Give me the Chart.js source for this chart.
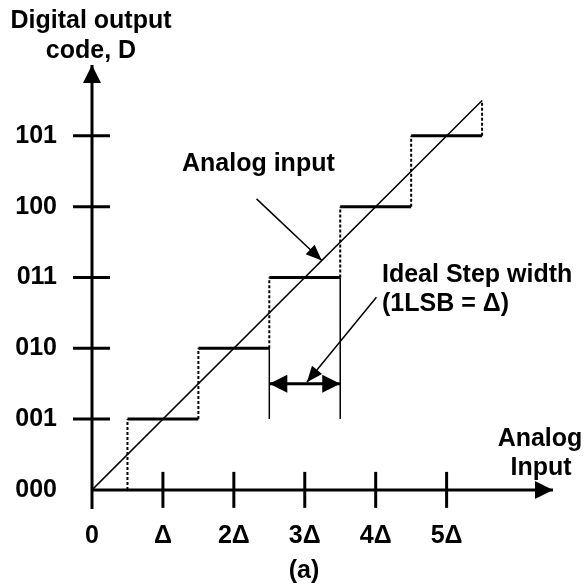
<!DOCTYPE html>
<html>
<head>
<meta charset="utf-8">
<script src="https://cdn.jsdelivr.net/npm/chart.js@4.4.1/dist/chart.umd.min.js"></script>
<style>
    html, body { margin: 0; padding: 0; background: #fff; overflow: hidden; }
    #wrap { width: 584px; height: 587px; position: relative; }
</style>
</head>
<body>
<div id="wrap"><canvas id="adcChart"></canvas></div>
<script>
// Codigos no eixo vertical (um codigo por delta)
const codeValues = [0, 1, 2, 3, 4, 5];
const codeLabels = ['000', '001', '010', '011', '100', '101'];

// Ticks do eixo horizontal, em unidades de delta
const inputValues = [0, 1, 2, 3, 4, 5];
const inputLabels = ['0', 'Δ', '2Δ', '3Δ', '4Δ', '5Δ'];

// Cada codigo vale de stepStart ate stepEnd
const stepStart = [0, 0.5, 1.5, 2.5, 3.5, 4.5];
const stepEnd = [0.5, 1.5, 2.5, 3.5, 4.5, 5.5];

// Entrada analogica ideal (reta)
const analogX = [0, 5.5];
const analogY = [0, 5.5];

// Limites dos eixos
const xAxisEnd = 6.5;
const yAxisEnd = 6;
const yAxisBelow = -0.27;

// Cota de 1 LSB
const lsbFrom = 2.5;
const lsbTo = 3.5;
const lsbLevel = 1.5;
const lsbBase = 1;

// Setas de chamada (de -> ate)
const analogLeader = [[2.32, 4.11], [3.24, 3.24]];
const lsbLeader = [[4.01, 2.72], [3.03, 1.52]];

// monta os segmentos a partir dos arrays
const stepData = [];
for (let k = 1; k < codeValues.length; k++) {
    stepData.push({ x: stepStart[k], y: codeValues[k] });
    stepData.push({ x: stepEnd[k], y: codeValues[k] });
    stepData.push({ x: stepEnd[k], y: null });
}

const riserData = [];
for (let k = 0; k < codeValues.length; k++) {
    const top = k + 1 < codeValues.length ? codeValues[k + 1] : analogY[1];
    riserData.push({ x: stepEnd[k], y: codeValues[k] });
    riserData.push({ x: stepEnd[k], y: top });
    riserData.push({ x: stepEnd[k], y: null });
}

const extensionData = [
    { x: lsbFrom, y: lsbBase }, { x: lsbFrom, y: codeValues[2] }, { x: lsbFrom, y: null },
    { x: lsbTo, y: lsbBase }, { x: lsbTo, y: codeValues[3] }
];

const FONT = 'bold 25px "Liberation Sans", Arial, sans-serif';

function arrowHead(ctx, x0, y0, x1, y1, len, half) {
    const a = Math.atan2(y1 - y0, x1 - x0);
    const c = Math.cos(a), s = Math.sin(a);
    ctx.beginPath();
    ctx.moveTo(x1, y1);
    ctx.lineTo(x1 - len * c + half * s, y1 - len * s - half * c);
    ctx.lineTo(x1 - len * c - half * s, y1 - len * s + half * c);
    ctx.closePath();
    ctx.fill();
}

// desenha ticks, rotulos, setas e textos
const decorPlugin = {
    id: 'decor',
    afterDatasetsDraw(chart) {
        const ctx = chart.ctx;
        const xs = chart.scales.x, ys = chart.scales.y;
        const x0 = xs.getPixelForValue(0), y0 = ys.getPixelForValue(0);
        ctx.save();
        ctx.fillStyle = '#000';
        ctx.strokeStyle = '#000';
        ctx.lineWidth = 3;

        // marcas dos ticks cruzando os eixos
        codeValues.forEach(v => {
            if (v === 0) return;
            const py = ys.getPixelForValue(v);
            ctx.beginPath();
            ctx.moveTo(x0 - 19, py);
            ctx.lineTo(x0 + 18, py);
            ctx.stroke();
        });
        inputValues.forEach(v => {
            if (v === 0) return;
            const px = xs.getPixelForValue(v);
            ctx.beginPath();
            ctx.moveTo(px, y0 - 18);
            ctx.lineTo(px, y0 + 18);
            ctx.stroke();
        });

        // pontas de seta dos eixos
        arrowHead(ctx, x0, y0, xs.getPixelForValue(xAxisEnd), y0, 18, 9);
        arrowHead(ctx, x0, y0, x0, ys.getPixelForValue(yAxisEnd), 18, 9);

        // cota de 1 LSB (dupla)
        const ly = ys.getPixelForValue(lsbLevel);
        const lx1 = xs.getPixelForValue(lsbFrom), lx2 = xs.getPixelForValue(lsbTo);
        arrowHead(ctx, lx2, ly, lx1, ly, 18, 9);
        arrowHead(ctx, lx1, ly, lx2, ly, 18, 9);

        // setas de chamada
        [analogLeader, lsbLeader].forEach(seg => {
            arrowHead(ctx,
                xs.getPixelForValue(seg[0][0]), ys.getPixelForValue(seg[0][1]),
                xs.getPixelForValue(seg[1][0]), ys.getPixelForValue(seg[1][1]), 16, 6.5);
        });

        // rotulos dos ticks
        ctx.font = FONT;
        ctx.textBaseline = 'middle';
        ctx.textAlign = 'right';
        codeValues.forEach((v, i) => {
            ctx.fillText(codeLabels[i], 57, ys.getPixelForValue(v));
        });
        ctx.textAlign = 'center';
        inputValues.forEach((v, i) => {
            ctx.fillText(inputLabels[i], xs.getPixelForValue(v), 536);
        });

        // textos
        ctx.fillText('Digital output', 91, 21);
        ctx.fillText('code, D', 91, 51);
        ctx.fillText('Analog', 540, 439);
        ctx.fillText('Input', 541, 468);
        ctx.fillText('(a)', 304, 571);
        ctx.textAlign = 'left';
        ctx.fillText('Analog input', 182, 164);
        ctx.fillText('Ideal Step width', 382, 275);
        ctx.fillText('(1LSB = Δ)', 382, 304);
        ctx.restore();
    }
};

function seg(data, width, dash) {
    return {
        data: data,
        showLine: true,
        borderColor: '#000',
        borderWidth: width,
        borderDash: dash || [],
        pointRadius: 0,
        spanGaps: false,
        clip: false
    };
}

const ctxAdc = document.getElementById('adcChart').getContext('2d');
const adcChart = new Chart(ctxAdc, {
    type: 'scatter',
    data: {
        datasets: [
            // eixos
            seg([{ x: 0, y: 0 }, { x: xAxisEnd, y: 0 }], 3),
            seg([{ x: 0, y: yAxisBelow }, { x: 0, y: yAxisEnd }], 3),
            // entrada analogica
            seg(analogX.map((x, i) => ({ x: x, y: analogY[i] })), 1.5),
            // degraus
            seg(stepData, 3),
            seg(riserData, 2, [3, 2]),
            seg(extensionData, 1.5),
            // cota
            seg([{ x: lsbFrom, y: lsbLevel }, { x: lsbTo, y: lsbLevel }], 3),
            // chamadas
            seg(analogLeader.map(p => ({ x: p[0], y: p[1] })), 1.5),
            seg(lsbLeader.map(p => ({ x: p[0], y: p[1] })), 1.5)
        ]
    },
    options: {
        responsive: true,
        maintainAspectRatio: false,
        animation: false,
        layout: { padding: { left: 92, right: 31, top: 65, bottom: 78 } },
        plugins: { legend: { display: false }, tooltip: { enabled: false } },
        scales: {
            x: { type: 'linear', min: 0, max: xAxisEnd, display: false },
            y: { type: 'linear', min: yAxisBelow, max: yAxisEnd, display: false }
        }
    },
    plugins: [decorPlugin]
});
</script>
</body>
</html>
